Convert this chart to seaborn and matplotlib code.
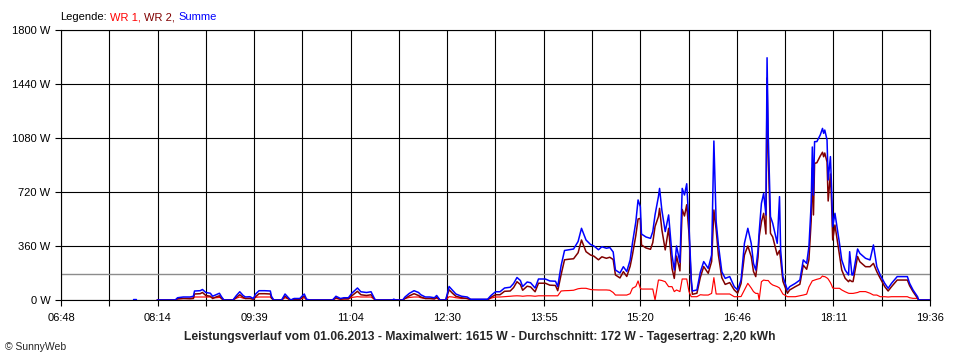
import pandas as pd
import numpy as np
import matplotlib
matplotlib.use('Agg')
import matplotlib.pyplot as plt
import seaborn as sns

# minutes after 06:48, power in W
minute = [85, 101, 103, 108, 114, 117, 118, 123, 125, 128, 132, 134, 137, 140, 142, 144,
          152, 155, 158, 161, 163, 167, 170, 172, 175, 180, 185, 186, 188,
          195, 198, 201, 203, 206, 211, 215, 217, 220,
          240, 243, 247, 250, 254, 257, 262, 265, 270, 274, 277, 278,
          293, 294, 296, 302, 304, 308, 312, 316, 318, 322, 326, 330, 332, 335,
          340, 343, 346, 349, 354, 359, 362, 377, 380, 384, 388, 392, 397, 400,
          403, 406, 408, 412, 415, 419, 422, 428, 432, 437, 439, 442, 445, 449,
          453, 457, 460, 464, 468, 471, 475, 478, 482, 485, 488, 490, 494, 497,
          500, 503, 505, 508, 510, 512, 513, 517, 521, 523, 525, 528, 529, 531,
          534, 537, 540, 542, 544, 547, 549, 551, 553, 555, 557, 558, 562, 565,
          568, 572, 575, 577, 579, 581, 584, 587, 591, 595, 598, 601, 604, 607,
          610, 612, 614, 616, 617, 619, 621, 623, 624, 625, 627, 629, 633, 635,
          636, 638, 642, 644, 649, 653, 656, 659, 661, 663, 664, 665, 666, 668,
          671, 673, 674, 675, 677, 678, 680, 681, 682, 684, 686, 688, 690, 693,
          696, 697, 699, 700, 704, 706, 711, 715, 718, 721, 724, 728, 731, 734,
          739, 743, 748, 750, 753, 757, 758, 768]

summe = [0, 0, 15, 20, 20, 25, 60, 62, 70, 50, 45, 25, 35, 45, 20, 0,
         0, 30, 55, 30, 20, 22, 10, 40, 62, 62, 60, 25, 0,
         0, 40, 15, 0, 10, 10, 40, 5, 0,
         0, 25, 10, 15, 15, 45, 80, 55, 50, 55, 10, 0,
         0, 5, 0, 0, 20, 45, 62, 50, 35, 20, 20, 15, 30, 0,
         0, 90, 65, 40, 25, 20, 5, 5, 30, 55, 55, 80, 85, 110,
         150, 130, 90, 120, 115, 80, 140, 140, 127, 125, 90, 230, 330, 335,
         340, 390, 478, 400, 370, 360, 335, 355, 345, 350, 320, 200, 180, 222,
         190, 267, 378, 520, 667, 622, 440, 420, 411, 456, 567, 690, 744, 600,
         456, 567, 300, 200, 360, 250, 744, 700, 775, 500, 140, 60, 67, 185,
         256, 211, 300, 1060, 522, 367, 189, 144, 156, 89, 67, 133, 378, 478,
         378, 244, 200, 333, 450, 644, 711, 567, 1615, 1111, 556, 511, 378, 689,
         333, 156, 67, 89, 111, 133, 267, 244, 356, 644, 1020, 700, 1056, 1056,
         1100, 1144, 1111, 1133, 1067, 800, 956, 756, 489, 578, 478, 378, 267, 200,
         167, 322, 167, 167, 340, 311, 278, 267, 367, 222, 167, 111, 78, 111,
         156, 156, 156, 111, 67, 22, 0, 0]

wr2 = [0, 0, 8, 10, 8, 10, 40, 42, 50, 30, 25, 10, 20, 28, 8, 0,
       0, 18, 35, 18, 10, 10, 5, 22, 42, 42, 40, 12, 0,
       0, 25, 8, 0, 5, 5, 25, 3, 0,
       0, 15, 5, 8, 8, 28, 58, 35, 30, 35, 5, 0,
       0, 3, 0, 0, 10, 28, 42, 30, 20, 10, 10, 8, 18, 0,
       0, 68, 45, 25, 15, 10, 3, 3, 18, 35, 35, 58, 60, 83,
       122, 103, 65, 92, 87, 55, 112, 112, 99, 97, 62, 170, 268, 272,
       275, 315, 400, 322, 300, 292, 268, 288, 278, 285, 270, 167, 147, 189,
       157, 225, 300, 430, 540, 544, 367, 347, 338, 383, 490, 556, 611, 470,
       334, 478, 211, 144, 293, 194, 604, 560, 635, 444, 118, 38, 45, 150,
       223, 178, 256, 600, 470, 300, 149, 104, 116, 67, 45, 110, 300, 360,
       290, 190, 156, 285, 420, 520, 578, 440, 1480, 980, 445, 420, 300, 330,
       270, 125, 45, 67, 89, 105, 232, 205, 270, 530, 880, 567, 911, 915,
       960, 985, 955, 980, 920, 660, 840, 650, 400, 500, 400, 300, 200, 145,
       122, 133, 123, 123, 290, 255, 222, 222, 244, 189, 145, 89, 60, 89,
       133, 133, 133, 95, 56, 11, 0, 0]

wr1 = [0, 0, 7, 10, 12, 15, 20, 20, 20, 20, 20, 15, 15, 17, 12, 0,
       0, 12, 20, 12, 10, 12, 5, 18, 20, 20, 20, 13, 0,
       0, 15, 7, 0, 5, 5, 15, 2, 0,
       0, 10, 5, 7, 7, 17, 22, 20, 20, 20, 5, 0,
       0, 2, 0, 0, 10, 17, 20, 20, 15, 10, 10, 7, 12, 0,
       0, 22, 20, 15, 10, 10, 2, 2, 12, 20, 20, 22, 25, 27,
       28, 27, 25, 28, 28, 25, 28, 28, 28, 28, 28, 60, 62, 63,
       65, 75, 78, 78, 70, 68, 67, 67, 67, 65, 50, 33, 33, 33,
       33, 42, 78, 90, 127, 78, 73, 73, 73, 73, 0, 133, 133, 130,
       122, 89, 89, 56, 67, 56, 140, 140, 140, 56, 22, 22, 22, 35,
       33, 33, 44, 149, 40, 40, 40, 40, 40, 22, 22, 23, 67, 111,
       80, 56, 44, 44, 0, 122, 133, 130, 130, 130, 111, 100, 89, 80,
       67, 40, 22, 22, 22, 28, 33, 39, 86, 114, 128, 130, 133, 138,
       144, 160, 156, 156, 147, 140, 116, 100, 80, 78, 78, 78, 67, 55,
       45, 44, 44, 44, 50, 56, 56, 45, 33, 33, 22, 22, 20, 22,
       22, 22, 22, 15, 11, 11, 0, 0]

# short reading before the main curve
blip_minute = [64, 66]
blip_summe = [5, 5]

time_labels = ['06:48', '08:14', '09:39', '11:04', '12:30',
               '13:55', '15:20', '16:46', '18:11', '19:36']
y_values = [0, 360, 720, 1080, 1440, 1800]
average = 172

df = pd.DataFrame({'Minute': minute, 'WR 1': wr1, 'WR 2': wr2, 'Summe': summe})
df_long = df.melt(id_vars='Minute', var_name='Serie', value_name='Leistung')
df_blip = pd.DataFrame({'Minute': blip_minute, 'Leistung': blip_summe})

sns.set_style('white')
plt.rcParams['font.family'] = ['Liberation Sans', 'DejaVu Sans']

fig = plt.figure(figsize=(9.6, 3.6), dpi=100)
ax = fig.add_axes([61 / 960, 60 / 360, 869 / 960, 270 / 360])

colors = {'WR 1': '#ff0000', 'WR 2': '#800000', 'Summe': '#0000ff'}
sns.lineplot(data=df_long, x='Minute', y='Leistung', hue='Serie',
             hue_order=['WR 1', 'WR 2', 'Summe'], palette=colors,
             estimator=None, legend=False, ax=ax, linewidth=1.0, zorder=3)
sns.lineplot(data=df_blip, x='Minute', y='Leistung', color='#0000ff',
             estimator=None, ax=ax, linewidth=1.0, zorder=3)
for line, lw in zip(ax.lines[:3], [0.85, 1.1, 1.1]):
    line.set_linewidth(lw)

ax.axhline(average, color='#8c8c8c', linewidth=1.0, zorder=1.5)

ax.set_xlim(0, 768)
ax.set_ylim(0, 1800)
xt = np.arange(19) * 768 / 18
ax.set_xticks(xt)
labels = []
for i in range(19):
    labels.append(time_labels[i // 2] if i % 2 == 0 else '')
ax.set_xticklabels(labels)
ax.set_yticks(y_values)
ax.set_yticklabels([f'{v} W' for v in y_values])
ax.set_xlabel('')
ax.set_ylabel('')
ax.grid(True, color='black', linewidth=0.8)
ax.set_axisbelow(True)
for s in ax.spines.values():
    s.set_color('black')
    s.set_linewidth(0.8)
ax.tick_params(axis='both', which='both', direction='out', length=4.5, width=0.8,
               color='black', labelsize=8, labelcolor='black')
ax.tick_params(axis='x', pad=5, bottom=True)
ax.tick_params(axis='y', pad=3, left=True)

fig.text(0.5, 1 - 337 / 360,
         'Leistungsverlauf vom 01.06.2013 - Maximalwert: 1615 W - Durchschnitt: 172 W - Tagesertrag: 2,20 kWh',
         ha='center', va='center', fontsize=8.7, fontweight='bold')
fig.text(5 / 960, 1 - 347 / 360, '© SunnyWeb', ha='left', va='center', fontsize=7.5)

# legend line at the top
fig.canvas.draw()
renderer = fig.canvas.get_renderer()
xpos = 60
for txt, col in [('Legende:', 'black'), ('WR 1,', '#ff0000'),
                 ('WR 2,', '#800000'), ('Summe', '#0000ff')]:
    t = fig.text(xpos / 960, 1 - 17 / 360, txt, color=col, fontsize=8,
                 ha='left', va='center')
    xpos += t.get_window_extent(renderer).width + 3.5

fig.savefig('out.png', dpi=100)
